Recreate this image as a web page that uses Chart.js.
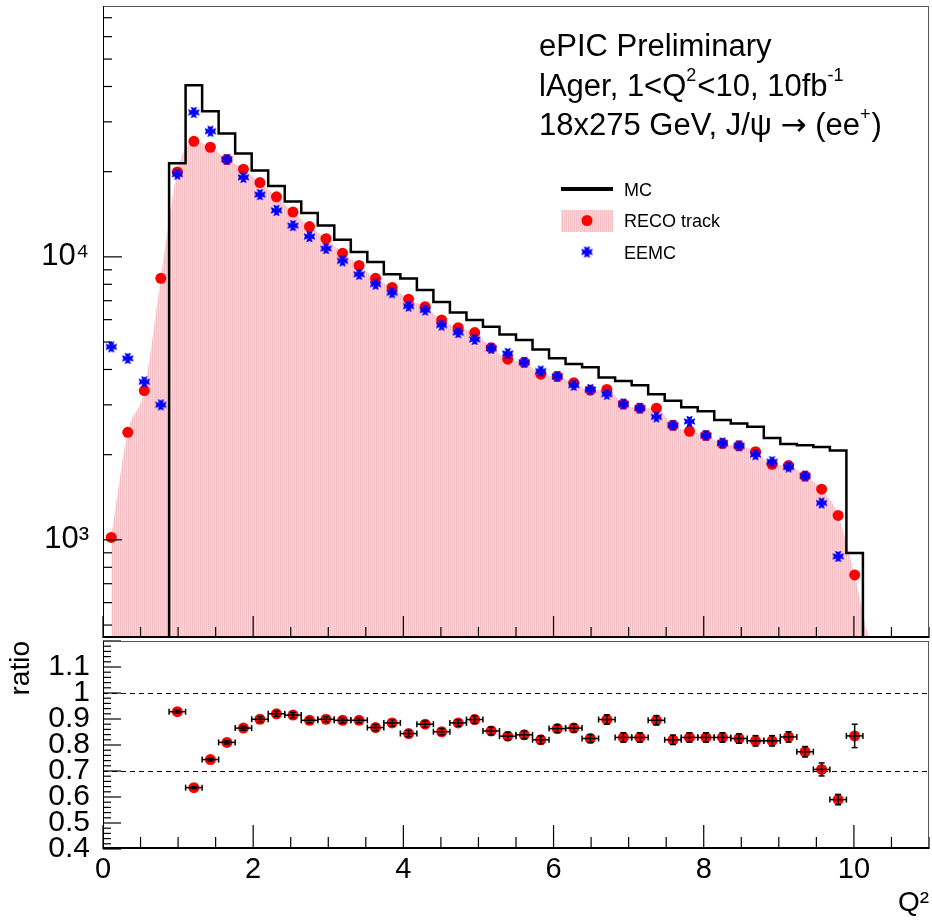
<!DOCTYPE html>
<html>
<head>
<meta charset="utf-8">
<script src="https://cdn.jsdelivr.net/npm/chart.js@4.4.1/dist/chart.umd.min.js"></script>
<style>
  html, body { margin: 0; padding: 0; background: #fff; }
  #wrap { position: relative; width: 932px; height: 924px; }
  #top { position: absolute; left: 0; top: 0; }
  #bottom { position: absolute; left: 0; top: 640px; }
</style>
</head>
<body>
<div id="wrap">
  <canvas id="top" width="932" height="640"></canvas>
  <canvas id="bottom" width="932" height="284"></canvas>
</div>
<script>
// histogram binning: 50 bins of 0.22 in Q2, from 0 to 11
const binLow = 0;
const binWidth = 0.22;
const nBins = 50;

// counts per bin (null = empty bin)
const mcCounts = [
  null, null, null, null, 21400, 40400, 32700, 27300, 23200, 20200,
  17800, 15700, 14300, 12900, 11500, 10400, 9600, 8680, 8390, 7630,
  6930, 6360, 5980, 5660, 5320, 5080, 4710, 4380, 4180, 4070,
  3750, 3640, 3520, 3270, 3100, 2940, 2850, 2650, 2580, 2510,
  2290, 2180, 2160, 2130, 2070, 898, null, null, null, null
];
const recoCounts = [
  1020, 2400, 3370, 8400, 19950, 25600, 24400, 22100, 20400, 18300,
  16300, 14400, 12800, 11600, 10300, 9330, 8400, 7800, 7090, 6670,
  5980, 5620, 5400, 4770, 4350, 4240, 3850, 3780, 3590, 3380,
  3400, 3020, 2920, 2920, 2540, 2420, 2340, 2190, 2150, 2050,
  1850, 1830, 1680, 1510, 1220, 752, null, null, null, null
];
const eemcCounts = [
  4810, 4380, 3620, 3000, 19600, 32400, 27800, 22100, 19100, 16600,
  14600, 12900, 11800, 10700, 9680, 8680, 8010, 7470, 6700, 6490,
  5740, 5400, 5110, 4750, 4560, 4240, 3950, 3780, 3520, 3400,
  3270, 3020, 2920, 2720, 2540, 2620, 2340, 2200, 2150, 2000,
  1890, 1810, 1680, 1350, 874, null, null, null, null, null
];

// ratio panel
const ratioValues = [
  null, null, null, null, 0.928, 0.636, 0.744, 0.810, 0.865, 0.899,
  0.920, 0.915, 0.895, 0.899, 0.895, 0.895, 0.867, 0.885, 0.844, 0.880,
  0.851, 0.885, 0.898, 0.854, 0.834, 0.839, 0.820, 0.863, 0.865, 0.825,
  0.898, 0.829, 0.829, 0.895, 0.820, 0.829, 0.829, 0.829, 0.825, 0.816,
  0.816, 0.831, 0.774, 0.706, 0.590, 0.835, null, null, null, null
];
const ratioErrors = [
  null, null, null, null, 0.006, 0.004, 0.005, 0.006, 0.008, 0.010,
  0.010, 0.010, 0.010, 0.010, 0.010, 0.010, 0.012, 0.012, 0.012, 0.012,
  0.012, 0.012, 0.015, 0.015, 0.015, 0.015, 0.015, 0.015, 0.015, 0.015,
  0.018, 0.018, 0.018, 0.018, 0.018, 0.018, 0.018, 0.018, 0.018, 0.020,
  0.020, 0.020, 0.020, 0.025, 0.020, 0.045, null, null, null, null
];

const yTopMin = 450, yTopMax = 77000;
const ratioMin = 0.4, ratioMax = 1.2;
const ratioLines = [1.0, 0.7];
const topTickLabels = {1000: '10\u00b3', 10000: '10\u2074'};
const xTickLabels = [0, 2, 4, 6, 8, 10];

const FONT = '"Liberation Sans", Arial, Helvetica, sans-serif';
Chart.defaults.font.family = FONT;
Chart.defaults.color = '#000';

const edges = [];
for (let i = 0; i <= nBins; i++) edges.push(binLow + i * binWidth);
const centers = edges.slice(0, nBins).map(e => e + binWidth / 2);

function points(arr) {
  const out = [];
  arr.forEach((v, i) => { if (v != null) out.push({x: centers[i], y: v}); });
  return out;
}

// MC drawn as a step histogram through the bin edges
const mcSteps = mcCounts.map((v, i) => ({x: edges[i], y: v != null ? v : 1}));
mcSteps.push({x: edges[nBins], y: mcSteps[nBins - 1].y});

// smooth RECO curve, empty bins sit on the axis floor
const recoCurve = recoCounts.map((v, i) => ({x: centers[i], y: v != null ? v : yTopMin}));

// pink hatch like the ROOT fill style
function makeHatch(ctx) {
  const c = document.createElement('canvas');
  c.width = 2; c.height = 2;
  const g = c.getContext('2d');
  g.fillStyle = 'rgb(251,218,222)';
  g.fillRect(0, 0, 2, 2);
  g.fillStyle = 'rgb(244,190,197)';
  g.fillRect(0, 0, 1, 2);
  return ctx.createPattern(c, 'repeat');
}

// blue cross marker
function makeCross() {
  const c = document.createElement('canvas');
  c.width = 13; c.height = 13;
  const g = c.getContext('2d');
  g.fillStyle = '#0000ff';
  g.translate(6.5, 6.5);
  for (let k = 0; k < 4; k++) {
    g.beginPath();
    g.moveTo(-1.3, 0);
    g.lineTo(-3.2, -5.8);
    g.lineTo(0, -4.6);
    g.lineTo(3.2, -5.8);
    g.lineTo(1.3, 0);
    g.closePath();
    g.fill();
    g.rotate(Math.PI / 2);
  }
  return c;
}

const topCtx = document.getElementById('top').getContext('2d');
const hatch = makeHatch(topCtx);
const crossImg = makeCross();

// inward ROOT style ticks and frame
const rootFrame = {
  id: 'rootFrame',
  afterDraw(chart, args, o) {
    const {ctx, chartArea: a, scales} = chart;
    const xs = scales.x, ys = scales.y;
    ctx.save();
    ctx.strokeStyle = '#000';
    ctx.lineWidth = 1.2;
    const seg = (x1, y1, x2, y2) => { ctx.beginPath(); ctx.moveTo(x1, y1); ctx.lineTo(x2, y2); ctx.stroke(); };
    for (let i = 0; i <= 22; i++) {
      const px = xs.getPixelForValue(i * 0.5);
      seg(px, a.bottom, px, a.bottom - (i % 4 === 0 ? o.xMajor : o.xMinor));
    }
    if (o.log) {
      [100, 1000, 10000].forEach(d => {
        for (let k = 1; k <= 9; k++) {
          const v = k * d;
          if (v < ys.min || v > ys.max) continue;
          const py = ys.getPixelForValue(v);
          seg(a.left, py, a.left + (k === 1 ? o.yMajor : o.yMinor), py);
        }
      });
    } else {
      for (let i = 0; i <= 40; i++) {
        const v = ratioMin + i * 0.02;
        const py = ys.getPixelForValue(v);
        seg(a.left, py, a.left + (i % 5 === 0 ? o.yMajor : o.yMinor), py);
      }
    }
    ctx.strokeStyle = '#555';
    ctx.lineWidth = 1;
    ctx.strokeRect(a.left + 0.5, a.top + 0.5, a.right - a.left - 1, a.bottom - a.top - 1);
    ctx.strokeStyle = '#000';
    seg(a.left + 0.5, a.top, a.left + 0.5, a.bottom);
    ctx.lineWidth = 2;
    seg(a.left, a.bottom - 1, a.right, a.bottom - 1);
    ctx.restore();
  }
};

function richText(ctx, x, y, parts, size) {
  let cx = x;
  parts.forEach(([t, sup, fam]) => {
    ctx.font = (sup ? Math.round(size * 0.58) : size) + 'px ' + (fam || FONT);
    ctx.fillText(t, cx, sup ? y - size * 0.5 : y);
    cx += ctx.measureText(t).width + (sup ? 1 : 0);
  });
}

const topLabels = {
  id: 'topLabels',
  afterDraw(chart) {
    const ctx = chart.ctx;
    ctx.save();
    ctx.fillStyle = '#000';
    ctx.textBaseline = 'alphabetic';
    ctx.textAlign = 'left';
    richText(ctx, 539, 56, [['ePIC Preliminary']], 31);
    richText(ctx, 539, 96, [['lAger, 1<Q'], ['2', true], ['<10, 10fb'], ['-1', true]], 31);
    richText(ctx, 539, 135, [['18x275 GeV, J/\u03c8 '], ['\u2192', false, '"DejaVu Sans", sans-serif'],
                             [' (ee'], ['+', true], [')']], 31);

    // legend
    ctx.strokeStyle = '#000';
    ctx.lineWidth = 4;
    ctx.beginPath(); ctx.moveTo(561, 189); ctx.lineTo(613, 189); ctx.stroke();
    ctx.fillStyle = hatch;
    ctx.fillRect(561, 210, 52, 22);
    ctx.fillStyle = '#ff0000';
    ctx.beginPath(); ctx.arc(587, 220.5, 5.5, 0, Math.PI * 2); ctx.fill();
    ctx.drawImage(crossImg, 587 - 6.5, 252 - 6.5);
    ctx.fillStyle = '#000';
    ctx.font = '18px ' + FONT;
    ctx.fillText('MC', 624, 196);
    ctx.fillText('RECO track', 624, 227);
    ctx.fillText('EEMC', 624, 259);
    ctx.restore();
  }
};

new Chart(topCtx, {
  type: 'line',
  data: {
    datasets: [
      {label: 'EEMC', data: points(eemcCounts), showLine: false, pointStyle: crossImg, order: 0},
      {label: 'RECO track', data: points(recoCounts), showLine: false, pointStyle: 'circle',
       pointRadius: 5.5, backgroundColor: '#ff0000', borderWidth: 0, order: 1},
      {label: 'MC', data: mcSteps, stepped: true, borderColor: '#000', borderWidth: 2.5,
       pointRadius: 0, fill: false, order: 2},
      {label: 'RECO curve', data: recoCurve, borderWidth: 0, pointRadius: 0, fill: 'start',
       backgroundColor: hatch, cubicInterpolationMode: 'monotone', order: 3}
    ]
  },
  options: {
    responsive: false,
    animation: false,
    events: [],
    layout: {autoPadding: false, padding: {top: 6, right: 3, bottom: 2, left: 0}},
    plugins: {
      legend: {display: false},
      tooltip: {enabled: false},
      rootFrame: {xMajor: 22, xMinor: 11, yMajor: 19, yMinor: 9, log: true}
    },
    scales: {
      x: {type: 'linear', min: 0, max: 11, display: false},
      y: {
        type: 'logarithmic', min: yTopMin, max: yTopMax,
        grid: {display: false}, border: {display: false},
        afterBuildTicks: s => { s.ticks = Object.keys(topTickLabels).map(v => ({value: +v})); },
        afterFit: s => { s.width = 103; s.paddingTop = 0; s.paddingBottom = 0; },
        ticks: {font: {size: 31}, padding: 6, autoSkip: false,
                callback: v => topTickLabels[v] || ''}
      }
    }
  },
  plugins: [rootFrame, topLabels]
});

// ratio panel
const ratioDecor = {
  id: 'ratioDecor',
  beforeDatasetsDraw(chart) {
    const {ctx, chartArea: a, scales} = chart;
    ctx.save();
    ctx.strokeStyle = '#000';
    ctx.lineWidth = 1;
    ctx.setLineDash([5, 4]);
    ratioLines.forEach(v => {
      const py = Math.round(scales.y.getPixelForValue(v)) + 0.5;
      ctx.beginPath(); ctx.moveTo(a.left, py); ctx.lineTo(a.right, py); ctx.stroke();
    });
    ctx.restore();
  },
  afterDatasetsDraw(chart) {
    const {ctx, scales} = chart;
    const xs = scales.x, ys = scales.y;
    ctx.save();
    ctx.strokeStyle = '#000';
    ctx.lineWidth = 1.5;
    const seg = (x1, y1, x2, y2) => { ctx.beginPath(); ctx.moveTo(x1, y1); ctx.lineTo(x2, y2); ctx.stroke(); };
    ratioValues.forEach((v, i) => {
      if (v == null) return;
      const px = xs.getPixelForValue(centers[i]);
      const xl = xs.getPixelForValue(centers[i] - binWidth / 2);
      const xr = xs.getPixelForValue(centers[i] + binWidth / 2);
      const py = ys.getPixelForValue(v);
      const yt = ys.getPixelForValue(v + ratioErrors[i]);
      const yb = ys.getPixelForValue(v - ratioErrors[i]);
      seg(xl, py, xr, py);
      seg(xl, py - 3, xl, py + 3);
      seg(xr, py - 3, xr, py + 3);
      seg(px, yt, px, yb);
      seg(px - 3, yt, px + 3, yt);
      seg(px - 3, yb, px + 3, yb);
    });
    ctx.restore();
  }
};

new Chart(document.getElementById('bottom'), {
  type: 'line',
  data: {
    datasets: [
      {label: 'ratio', data: points(ratioValues), showLine: false, pointStyle: 'circle',
       pointRadius: 5.5, backgroundColor: '#ff0000', borderWidth: 0}
    ]
  },
  options: {
    responsive: false,
    animation: false,
    events: [],
    layout: {autoPadding: false, padding: {top: 1, right: 3, bottom: 0, left: 0}},
    plugins: {
      legend: {display: false},
      tooltip: {enabled: false},
      rootFrame: {xMajor: 24, xMinor: 12, yMajor: 18, yMinor: 8, log: false}
    },
    scales: {
      x: {
        type: 'linear', min: 0, max: 11,
        grid: {display: false}, border: {display: false},
        afterBuildTicks: s => { s.ticks = xTickLabels.map(v => ({value: v})); },
        afterFit: s => { s.height = 75; s.paddingLeft = 0; s.paddingRight = 0; },
        ticks: {font: {size: 29}, padding: -4, autoSkip: false, maxRotation: 0},
        title: {display: true, text: 'Q\u00b2', align: 'end', font: {size: 28}, padding: 4}
      },
      y: {
        min: ratioMin, max: ratioMax,
        grid: {display: false}, border: {display: false},
        afterFit: s => { s.width = 103; s.paddingTop = 0; s.paddingBottom = 0; },
        ticks: {stepSize: 0.1, font: {size: 30}, padding: 5, autoSkip: false,
                callback: v => v > 1.15 ? '' : (Math.abs(v - 1) < 1e-6 ? '1' : v.toFixed(1))},
        title: {display: true, text: 'ratio', align: 'end', font: {size: 28}, padding: 4}
      }
    }
  },
  plugins: [rootFrame, ratioDecor]
});
</script>
</body>
</html>
